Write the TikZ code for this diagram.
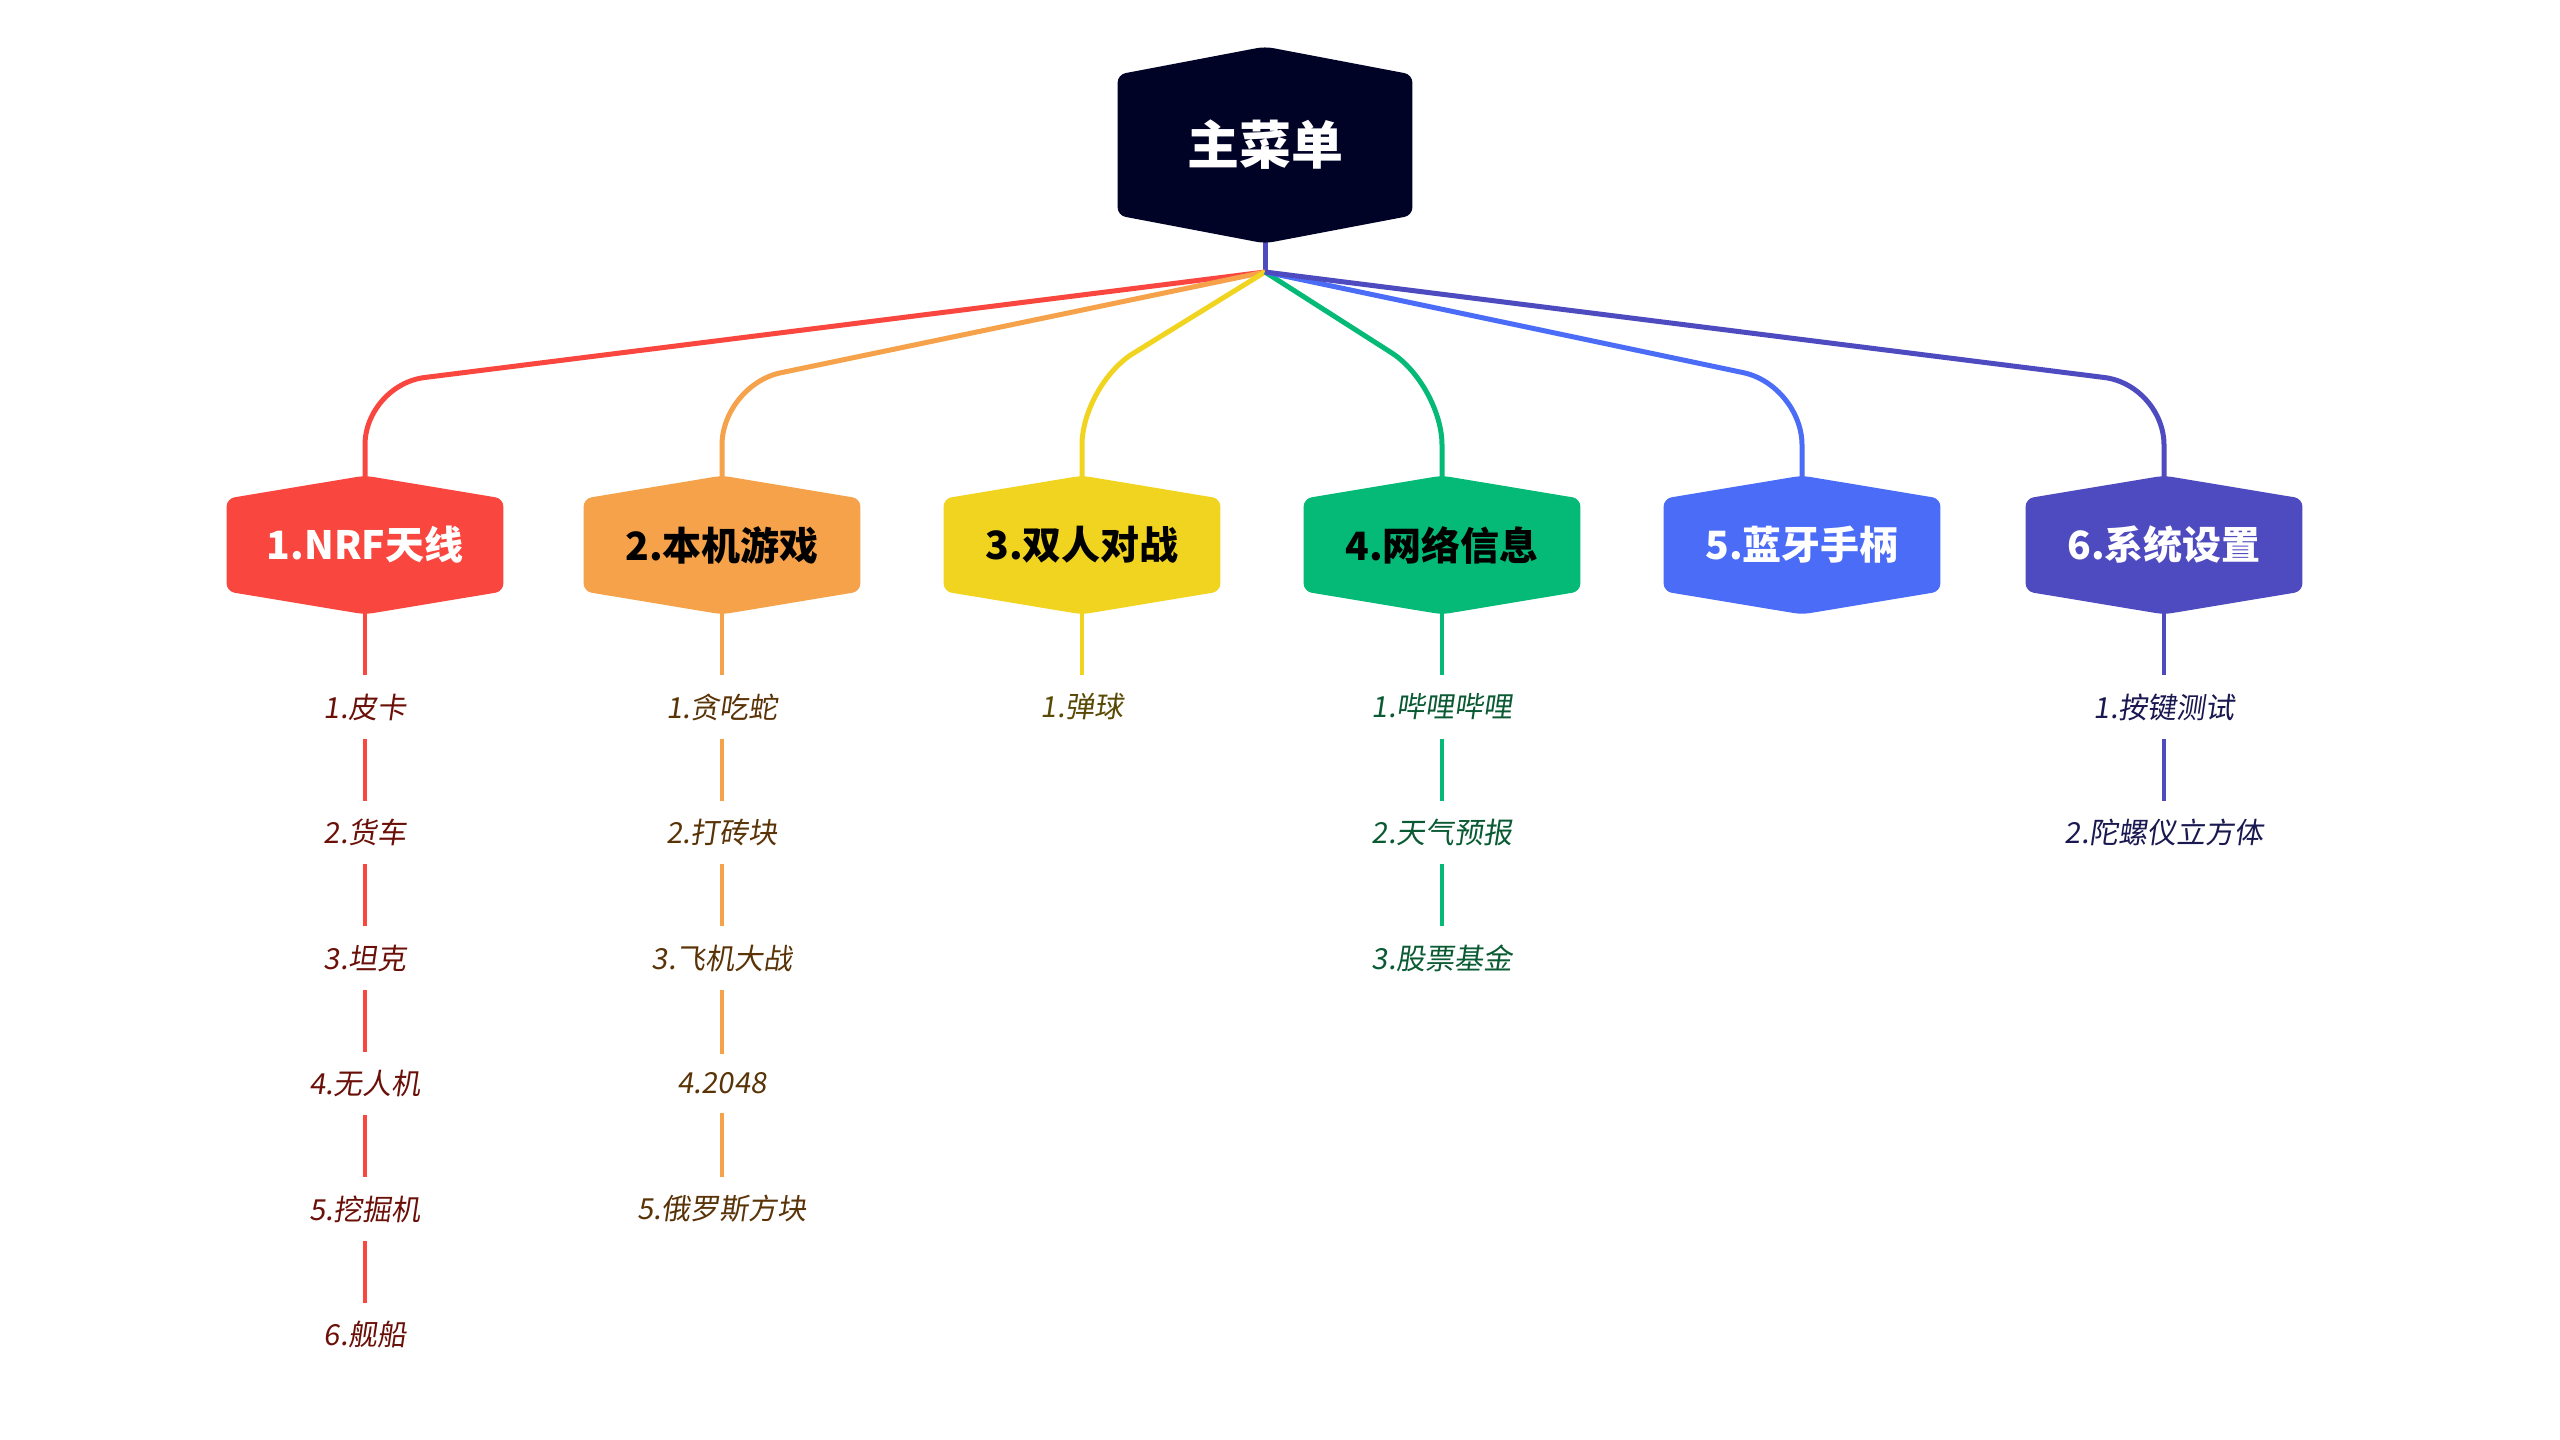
\documentclass[tikz,border=0pt]{standalone}
\usepackage{fontspec}
\setmainfont{Noto Sans CJK SC}
\newfontfamily\leaffont{Noto Sans CJK SC}[FakeSlant=0.15]
\usetikzlibrary{positioning,calc,backgrounds}

\definecolor{rootc}{HTML}{000326}
\definecolor{redc}{HTML}{F9463F}
\definecolor{orangec}{HTML}{F5A24B}
\definecolor{yellowc}{HTML}{F1D420}
\definecolor{greenc}{HTML}{05BA77}
\definecolor{bluec}{HTML}{4A6CF7}
\definecolor{indigoc}{HTML}{4E4ABF}
\definecolor{redtxt}{HTML}{6B1008}
\definecolor{orangetxt}{HTML}{5A3307}
\definecolor{yellowtxt}{HTML}{5A4A05}
\definecolor{greentxt}{HTML}{0A5A33}
\definecolor{indigotxt}{HTML}{1A1850}

% hexagon behind a node: node, colour, apex height
\newcommand{\hexfill}[3]{%
  \fill[#2, rounded corners=4pt] (#1.north west) -- ($(#1.north)+(0,#3)$) -- (#1.north east)
    -- (#1.south east) -- ($(#1.south)-(0,#3)$) -- (#1.south west) -- cycle;}

\begin{document}
\begin{tikzpicture}[
    x=0.5pt, y=-0.5pt,
    node distance=62.75pt, on grid,
    root/.style={minimum width=147pt, minimum height=70pt, text=white, font=\bfseries\fontsize{26}{30}\selectfont},
    cat/.style={minimum width=138pt, minimum height=46pt, text=#1, font=\bfseries\fontsize{19.5}{23}\selectfont},
    leaf/.style={inner xsep=2pt, inner ysep=9pt, text=#1, font=\leaffont\fontsize{14.5}{17}\selectfont},
    branch/.style={draw=#1, line width=2.5pt, rounded corners=30pt},
    twig/.style={draw=#1, line width=1.6pt}
]
    \useasboundingbox (0,0) rectangle (2560,1440);

    \node[root] (menu) at (1265,145) {主菜单};
    \coordinate (hub) at (1265,272);
    \coordinate (bend) at (0,385);

    \node[cat=white] (nrf) at (365,545) {1.NRF天线};
    \node[cat=black] (game) at (722,545) {2.本机游戏};
    \node[cat=black] (duo) at (1082,545) {3.双人对战};
    \node[cat=black] (net) at (1442,545) {4.网络信息};
    \node[cat=white] (bt) at (1802,545) {5.蓝牙手柄};
    \node[cat=white] (sys) at (2164,545) {6.系统设置};

    \node[leaf=redtxt, below=81pt of nrf] (nrf-1) {1.皮卡};
    \node[leaf=redtxt, below=of nrf-1] (nrf-2) {2.货车};
    \node[leaf=redtxt, below=of nrf-2] (nrf-3) {3.坦克};
    \node[leaf=redtxt, below=of nrf-3] (nrf-4) {4.无人机};
    \node[leaf=redtxt, below=of nrf-4] (nrf-5) {5.挖掘机};
    \node[leaf=redtxt, below=of nrf-5] (nrf-6) {6.舰船};

    \node[leaf=orangetxt, below=81pt of game] (game-1) {1.贪吃蛇};
    \node[leaf=orangetxt, below=of game-1] (game-2) {2.打砖块};
    \node[leaf=orangetxt, below=of game-2] (game-3) {3.飞机大战};
    \node[leaf=orangetxt, below=of game-3] (game-4) {4.2048};
    \node[leaf=orangetxt, below=of game-4] (game-5) {5.俄罗斯方块};

    \node[leaf=yellowtxt, below=81pt of duo] (duo-1) {1.弹球};

    \node[leaf=greentxt, below=81pt of net] (net-1) {1.哔哩哔哩};
    \node[leaf=greentxt, below=of net-1] (net-2) {2.天气预报};
    \node[leaf=greentxt, below=of net-2] (net-3) {3.股票基金};

    \node[leaf=indigotxt, below=81pt of sys] (sys-1) {1.按键测试};
    \node[leaf=indigotxt, below=of sys-1] (sys-2) {2.陀螺仪立方体};

    \begin{scope}[on background layer]
        \draw[branch=indigoc, rounded corners=0pt] (menu.south) -- (hub);
        \draw[branch=redc] (hub) -- (nrf |- bend) -- (nrf.north);
        \draw[branch=orangec] (hub) -- (game |- bend) -- (game.north);
        \draw[branch=yellowc] (hub) -- (duo |- bend) -- (duo.north);
        \draw[branch=greenc] (hub) -- (net |- bend) -- (net.north);
        \draw[branch=bluec] (hub) -- (bt |- bend) -- (bt.north);
        \draw[branch=indigoc] (hub) -- (sys |- bend) -- (sys.north);

        \draw[twig=redc] (nrf) -- (nrf-1) (nrf-1) -- (nrf-2) (nrf-2) -- (nrf-3)
            (nrf-3) -- (nrf-4) (nrf-4) -- (nrf-5) (nrf-5) -- (nrf-6);
        \draw[twig=orangec] (game) -- (game-1) (game-1) -- (game-2) (game-2) -- (game-3)
            (game-3) -- (game-4) (game-4) -- (game-5);
        \draw[twig=yellowc] (duo) -- (duo-1);
        \draw[twig=greenc] (net) -- (net-1) (net-1) -- (net-2) (net-2) -- (net-3);
        \draw[twig=indigoc] (sys) -- (sys-1) (sys-1) -- (sys-2);

        \hexfill{menu}{rootc}{14pt}
        \hexfill{nrf}{redc}{11.5pt}
        \hexfill{game}{orangec}{11.5pt}
        \hexfill{duo}{yellowc}{11.5pt}
        \hexfill{net}{greenc}{11.5pt}
        \hexfill{bt}{bluec}{11.5pt}
        \hexfill{sys}{indigoc}{11.5pt}
    \end{scope}
\end{tikzpicture}
\end{document}
